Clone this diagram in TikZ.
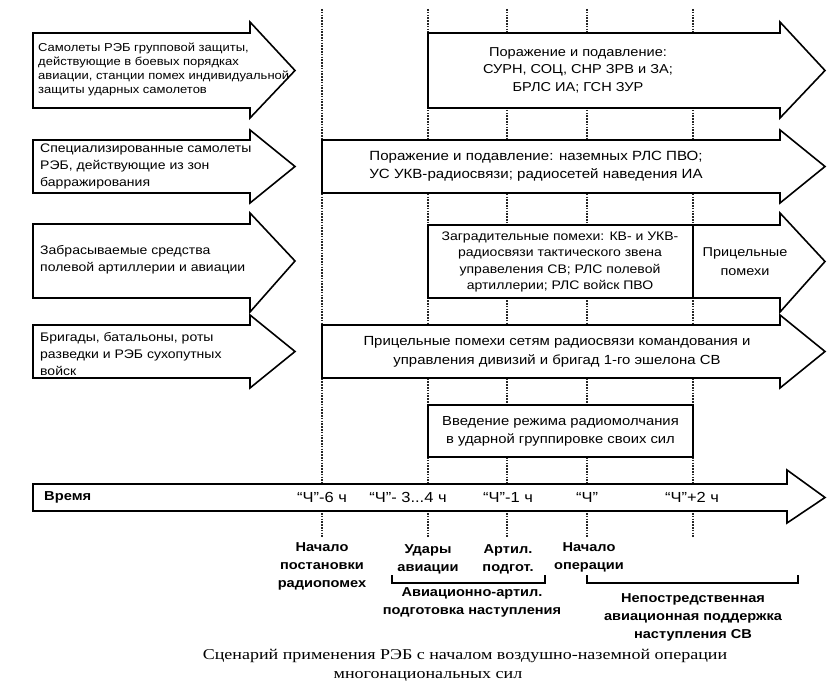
\documentclass[tikz,border=0pt]{standalone}
\usepackage{fontspec}
\setmainfont{Liberation Sans}[FakeStretch=1.13]
\newfontfamily\capfont{Liberation Serif}[FakeStretch=1.2]
\begin{document}
\begin{tikzpicture}[x=1pt,y=-1pt,
  barrow/.style={draw=black,line width=1.6pt,fill=white,line join=miter},
  vline/.style={draw=black!85,line width=1.4pt,dash pattern=on 1.6pt off 1.2pt},
  brk/.style={draw=black,line width=1.2pt},
  ltxt/.style={anchor=west,align=left,inner sep=0pt},
  ctxt/.style={align=center,inner sep=0pt},
  fa/.style={font=\fontsize{11.5}{14}\selectfont},
  fb/.style={font=\fontsize{12.4}{17}\selectfont},
  fc/.style={font=\fontsize{12.4}{16.5}\selectfont},
  ft/.style={font=\fontsize{14.6}{17}\selectfont},
  fbold/.style={font=\fontsize{12.9}{18}\selectfont\bfseries},
  fcap/.style={font=\fontsize{15}{19}\selectfont\capfont}]
\useasboundingbox (0,0) rectangle (840,692);
\newcommand{\blockarrow}[7]{%
  \draw[barrow] (#1,#2) -- (#4,#2) -- (#4,#5) -- (#7,{(#2+#3)/2}) -- (#4,#6) -- (#4,#3) -- (#1,#3) -- cycle;}
% dotted time lines
\foreach \x/\n in {322/a,428/b,507/c,587/d,693/e}{
  \coordinate (t\n top) at (\x,9);
  \coordinate (t\n bot) at (\x,538);
  \draw[vline] (t\n top) -- (t\n bot);
}
% left arrows
\blockarrow{33}{33}{108}{250}{22}{118}{295}
\blockarrow{33}{140}{193}{250}{130}{203}{295}
\blockarrow{33}{224}{298}{250}{213}{312}{295}
\blockarrow{33}{325}{378}{250}{315}{388}{295}
\node[ltxt,fa] (l1) at (38,69) {Самолеты РЭБ групповой защиты,\\действующие в боевых порядках\\авиации, станции помех индивидуальной\\защиты ударных самолетов};
\node[ltxt,fb] (l2) at (40,166) {Специализированные самолеты\\РЭБ, действующие из зон\\барражирования};
\node[ltxt,fb] (l3) at (40,260) {Забрасываемые средства\\полевой артиллерии и авиации};
\node[ltxt,fb] (l4) at (40,354) {Бригады, батальоны, роты\\разведки и РЭБ сухопутных\\войск};
% right arrows
\blockarrow{428}{33}{108}{780}{22}{118}{825}
\node[ctxt,font=\fontsize{12.9}{17.5}\selectfont] (r1) at (578,70) {Поражение и подавление:\\СУРН, СОЦ, СНР ЗРВ и ЗА;\\БРЛС ИА; ГСН ЗУР};
\blockarrow{322}{140}{193}{780}{130}{203}{825}
\node[ctxt,font=\fontsize{13.35}{18}\selectfont] (r2) at (536,166) {Поражение и подавление: наземных РЛС ПВО;\\УС УКВ-радиосвязи; радиосетей наведения ИА};
\blockarrow{428}{225}{298}{780}{213}{312}{825}
\coordinate (divtop) at (693,225);
\coordinate (divbot) at (693,298);
\draw[barrow] (divtop) -- (divbot);
\node[ctxt,fc] (r3) at (560,262) {Заградительные помехи: КВ- и УКВ-\\радиосвязи тактического звена\\управеления СВ; РЛС полевой\\артиллерии; РЛС войск ПВО};
\node[ctxt,font=\fontsize{12.8}{19}\selectfont] (r3b) at (745,262) {Прицельные\\помехи};
\blockarrow{322}{325}{378}{780}{315}{388}{825}
\node[ctxt,font=\fontsize{13.2}{19}\selectfont] (r4) at (557,352) {Прицельные помехи сетям радиосвязи командования и\\управления дивизий и бригад 1-го эшелона СВ};
% silence box
\node[draw=black,line width=1.6pt,fill=white,minimum width=265pt,minimum height=52pt,inner sep=0pt] (box) at (560.5,431) {};
\node[ctxt,font=\fontsize{13.1}{18}\selectfont] (boxt) at (box.center) {Введение режима радиомолчания\\в ударной группировке своих сил};
% time arrow
\blockarrow{33}{484}{511}{787}{470}{523}{825}
\node[ltxt,font=\fontsize{13}{16}\selectfont\bfseries] (time) at (44,497) {Время};
\node[ctxt,ft] (h6) at (322,497) {“Ч”-6 ч};
\node[ctxt,ft] (h3) at (408,497) {“Ч”- 3...4 ч};
\node[ctxt,ft] (h1) at (508,497) {“Ч”-1 ч};
\node[ctxt,ft] (h0) at (587,497) {“Ч”};
\node[ctxt,ft] (h2) at (692,497) {“Ч”+2 ч};
% bottom labels
\node[ctxt,fbold] (b1) at (322,566) {Начало\\постановки\\радиопомех};
\node[ctxt,fbold] (b2) at (428,559) {Удары\\авиации};
\node[ctxt,fbold] (b3) at (508,559) {Артил.\\подгот.};
\node[ctxt,fbold] (b4) at (589,557) {Начало\\операции};
% brackets
\coordinate (k1a) at (392,575); \coordinate (k1b) at (392,583);
\coordinate (k1c) at (545,583); \coordinate (k1d) at (545,575);
\draw[brk] (k1a) -- (k1b) -- (k1c) -- (k1d);
\coordinate (k2a) at (587,575); \coordinate (k2b) at (587,583);
\coordinate (k2c) at (798,583); \coordinate (k2d) at (798,575);
\draw[brk] (k2a) -- (k2b) -- (k2c) -- (k2d);
\node[ctxt,fbold] (b5) at (472,602) {Авиационно-артил.\\подготовка наступления};
\node[ctxt,fbold] (b6) at (693,617) {Непостредственная\\авиационная поддержка\\наступления СВ};
% caption
\node[ctxt,fcap] (cap1) at (465,656) {Сценарий применения РЭБ с началом воздушно-наземной операции};
\node[ctxt,fcap] (cap2) at (428,676) {многонациональных сил};
\end{tikzpicture}
\end{document}
